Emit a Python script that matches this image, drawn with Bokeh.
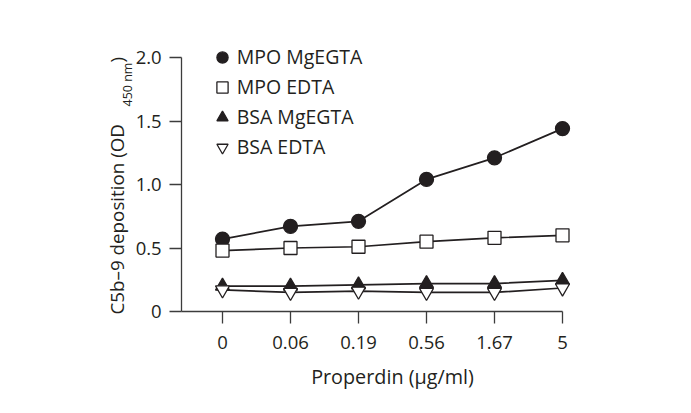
import numpy as np
from bokeh.plotting import figure
from bokeh.models import Range1d, Label, Legend, LegendItem, FixedTicker, ColumnDataSource
from bokeh.embed import file_html
from bokeh.resources import INLINE

# ---- data ----
categories = ["0", "0.06", "0.19", "0.56", "1.67", "5"]
mpo_mgegta = [0.57, 0.67, 0.71, 1.04, 1.21, 1.44]
mpo_edta = [0.48, 0.50, 0.51, 0.55, 0.58, 0.60]
bsa_mgegta = [0.20, 0.20, 0.21, 0.22, 0.22, 0.245]
bsa_edta = [0.17, 0.15, 0.16, 0.15, 0.15, 0.185]
series_names = ["MPO MgEGTA", "MPO EDTA", "BSA MgEGTA", "BSA EDTA"]
y_ticks = [0, 0.5, 1.0, 1.5, 2.0]
y_tick_labels = ["0", "0.5", "1.0", "1.5", "2.0"]

FONT = "Open Sans"
INK = "#231f20"
AX = "#3c3c3c"

W, H = 691, 413
# pixel placement of the data origin and scale inside the (full-canvas) frame
ox, oy = 222.0, 311.0
px_per_x, px_per_y = 68.0, 127.0
x0 = -0.6  # where the y axis crosses

p = figure(width=W, height=H, output_backend="svg", toolbar_location=None,
           x_range=Range1d(-ox / px_per_x, (W - ox) / px_per_x),
           y_range=Range1d(-(H - oy) / px_per_y, oy / px_per_y),
           min_border=0)
p.outline_line_color = None
p.grid.visible = False
p.background_fill_color = "white"
p.border_fill_color = "white"

xs = list(range(len(categories)))

# axes, pinned inside the frame
for ax in (p.xaxis[0], p.yaxis[0]):
    ax.axis_line_color = AX
    ax.axis_line_width = 1.3
    ax.major_tick_line_color = AX
    ax.major_tick_line_width = 1.3
    ax.major_tick_out = 12
    ax.major_tick_in = 0
    ax.minor_tick_line_color = None
    ax.major_label_text_font = FONT
    ax.major_label_text_font_size = "18.5px"
    ax.major_label_text_color = INK

p.xaxis.fixed_location = 0
p.xaxis.bounds = (x0, len(categories) - 1)
p.xaxis.ticker = FixedTicker(ticks=xs)
p.xaxis.major_label_overrides = {i: c for i, c in enumerate(categories)}
p.xaxis.major_label_standoff = 12

p.yaxis.fixed_location = x0
p.yaxis.bounds = (0, 2)
p.yaxis.ticker = FixedTicker(ticks=y_ticks)
p.yaxis.major_label_overrides = {t: l for t, l in zip(y_ticks, y_tick_labels)}
p.yaxis.major_label_standoff = 8

# series
styles = [
    dict(marker="circle", size=14, fill_color=INK),
    dict(marker="square", size=13, fill_color="white"),
    dict(marker="triangle", size=14, fill_color=INK),
    dict(marker="inverted_triangle", size=14, fill_color="white"),
]
items = []
for name, ys, st in zip(series_names, [mpo_mgegta, mpo_edta, bsa_mgegta, bsa_edta], styles):
    src = ColumnDataSource(dict(x=xs, y=ys))
    p.line("x", "y", source=src, line_color=INK, line_width=1.7)
    r = p.scatter("x", "y", source=src, marker=st["marker"], size=st["size"],
                  fill_color=st["fill_color"], line_color=INK, line_width=1.3)
    items.append(LegendItem(label=name, renderers=[r]))

legend = Legend(items=items, location=(207.7, 252.3), orientation="vertical",
                glyph_width=28, glyph_height=28, label_height=28, spacing=2,
                label_standoff=1, padding=0, margin=0,
                border_line_color=None, background_fill_alpha=0,
                label_text_font=FONT, label_text_font_size="19.5px",
                label_text_color=INK, label_text_baseline="middle")
p.add_layout(legend, "center")

# axis titles (screen units: from the left and bottom of the frame)
def lab(sx, sy, text, size, angle=0.0, align="left"):
    return Label(x=sx, y=sy, x_units="screen", y_units="screen", text=text, angle=angle,
                 text_font=FONT, text_font_size=size, text_color=INK,
                 text_align=align, text_baseline="alphabetic")

p.add_layout(lab(392, H - 376, "Properdin (µg/ml)", "19.8px", align="center"))
p.add_layout(lab(116, H - 314, "C5b–9 deposition (OD", "18.8px", angle=np.pi / 2))
p.add_layout(lab(127, H - 106, "450 nm", "12.5px", angle=np.pi / 2))
p.add_layout(lab(116, H - 62, ")", "18.8px", angle=np.pi / 2))

open("out.html", "w").write(file_html(p, INLINE))
